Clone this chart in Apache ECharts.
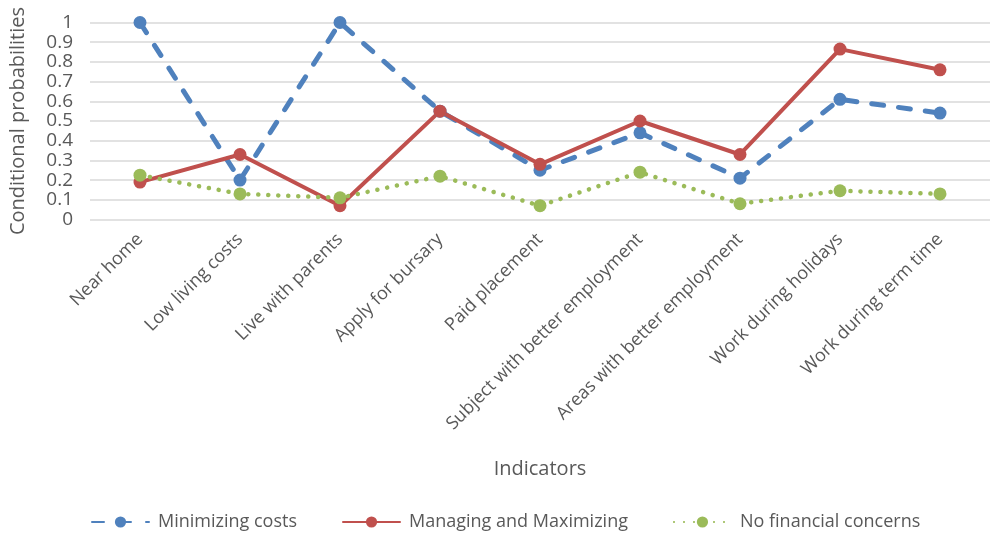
<!DOCTYPE html>
<html>
<head>
<meta charset="utf-8">
<script src="https://cdn.jsdelivr.net/npm/echarts@6/dist/echarts.min.js"></script>
<style>
  html, body { margin: 0; padding: 0; background: #fff; }
  #chart { width: 990px; height: 539px; }
</style>
</head>
<body>
<div id="chart"></div>
<script>
const indicators = ['Near home', 'Low living costs', 'Live with parents', 'Apply for bursary', 'Paid placement',
    'Subject with better employment', 'Areas with better employment', 'Work during holidays', 'Work during term time'];
const minimizingCosts = [1.0, 0.20, 1.0, 0.55, 0.25, 0.44, 0.21, 0.61, 0.54];
const managingMaximizing = [0.19, 0.33, 0.07, 0.55, 0.28, 0.50, 0.33, 0.865, 0.76];
const noFinancialConcerns = [0.225, 0.13, 0.11, 0.22, 0.07, 0.24, 0.08, 0.146, 0.13];

const font = 'Open Sans';
const grey = '#595959';

const lineSeries = (name, data, color, type, width) => ({
    name: name,
    type: 'line',
    data: data,
    symbol: 'circle',
    symbolSize: 13,
    itemStyle: { color: color },
    lineStyle: { color: color, width: width, type: type, cap: 'round' },
    emphasis: { disabled: true }
});

const initChart = () => {
    const myChart = echarts.init(document.getElementById('chart'));
    myChart.setOption({
        animation: false,
        grid: { left: 90, right: -4, top: 22.5, bottom: 319.5 },
        legend: {
            bottom: 3,
            left: 86,
            itemWidth: 57,
            itemHeight: 14,
            itemGap: 45,
            textStyle: { fontFamily: font, fontSize: 18, color: grey, padding: [0, 0, 0, 4] }
        },
        xAxis: {
            type: 'category',
            data: indicators,
            name: 'Indicators',
            nameLocation: 'middle',
            nameGap: 240,
            nameTextStyle: { fontFamily: font, fontSize: 20, color: grey },
            axisLine: { show: false },
            axisTick: { show: false },
            axisLabel: { rotate: 45, interval: 0, margin: 17, fontFamily: font, fontSize: 18, color: grey }
        },
        yAxis: {
            type: 'value',
            min: 0,
            max: 1,
            interval: 0.1,
            name: 'Conditional probabilities',
            nameLocation: 'middle',
            nameGap: 62,
            nameTextStyle: { fontFamily: font, fontSize: 20, color: grey },
            axisLabel: { fontFamily: font, fontSize: 19, color: grey, margin: 17 },
            splitLine: { lineStyle: { color: '#d9d9d9', width: 1.5 } }
        },
        series: [
            lineSeries('Minimizing costs', minimizingCosts, '#4f81bd', [12, 15], 5),
            lineSeries('Managing and Maximizing', managingMaximizing, '#c0504d', 'solid', 4),
            lineSeries('No financial concerns', noFinancialConcerns, '#9bbb59', [0.1, 9.9], 4.5)
        ]
    });
};

window.addEventListener('load', initChart);
</script>
</body>
</html>
